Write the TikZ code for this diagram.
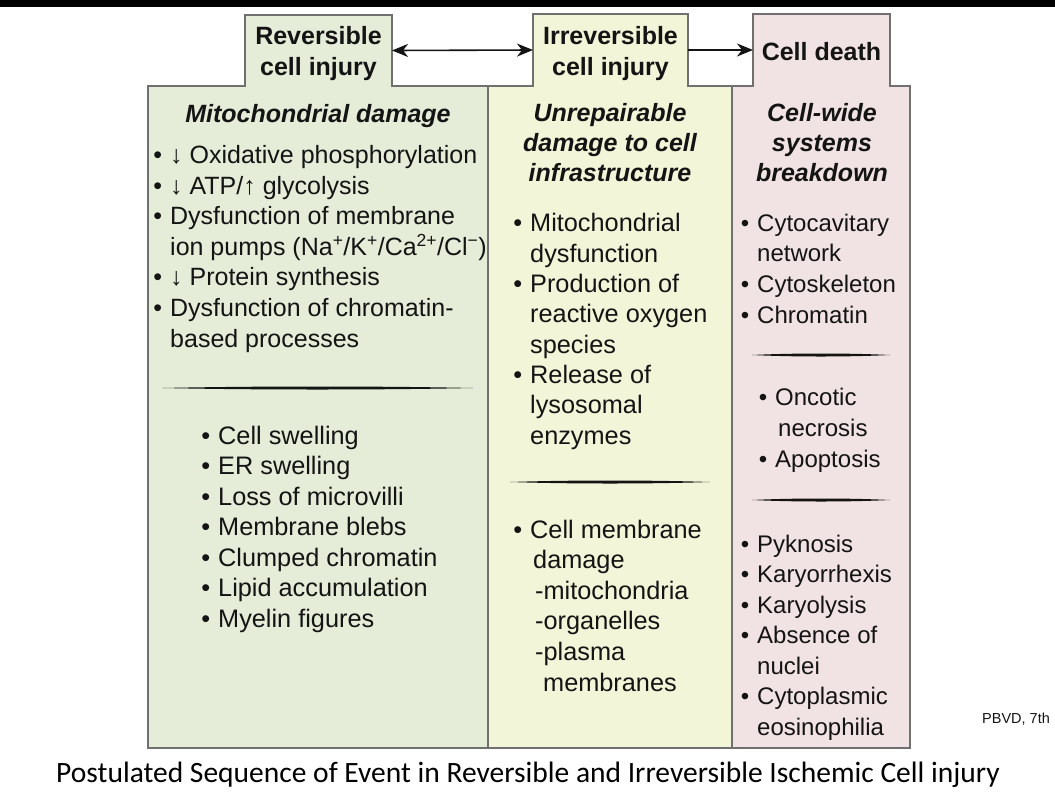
\documentclass[tikz,border=0pt]{standalone}
\usepackage{fontspec}
\setmainfont{Liberation Sans}
\newfontfamily\captionfont{Carlito}
\usetikzlibrary{arrows.meta, positioning, backgrounds}
\definecolor{sage}{HTML}{E5ECD8}
\definecolor{cream}{HTML}{F3F5D8}
\definecolor{blush}{HTML}{F1E3E3}
\definecolor{frame}{HTML}{707070}
\definecolor{ink}{HTML}{141414}

% hanging bullet
\newcommand{\bul}{\llap{\textbullet\hspace{8pt}}}
% tapered separator: x1, x2, y
\newcommand{\divider}[3]{%
  \fill[ink] (#1,#3) .. controls ({#1+0.3*(#2-#1)},{#3-2}) and ({#2-0.3*(#2-#1)},{#3-2}) .. (#2,#3)
    .. controls ({#2-0.3*(#2-#1)},{#3+2}) and ({#1+0.3*(#2-#1)},{#3+2}) .. (#1,#3);}

\begin{document}
\begin{tikzpicture}[
    x=1pt, y=-1pt,
    >={Stealth[length=16pt, width=13pt, inset=5pt]},
    tab/.style={
        font=\fontsize{25}{31}\selectfont\bfseries, align=center,
        inner sep=0pt, outer sep=0pt, text=ink
    },
    colbody/.style={inner sep=0pt, outer sep=0pt, minimum height=662},
    colfill/.style={fill=#1, draw=frame, line width=1.3pt},
    head/.style={
        font=\fontsize{25}{30}\selectfont\bfseries\itshape, align=center,
        anchor=base, inner sep=0pt, text=ink
    },
    body/.style={
        font=\fontsize{25.3}{30.6}\selectfont, align=left,
        anchor=base west, inner sep=0pt, text=ink
    },
    arr/.style={line width=1.6pt, draw=ink}
]
\useasboundingbox (0,0) rectangle (1055,809);

% === Tabs ===
\node[tab, minimum width=147, minimum height=71] (revtab) at (318.5,50.5) {\rule{0pt}{25pt}Reversible\\cell injury};
\node[tab, minimum width=155, minimum height=72] (irrtab) at (610.5,50) {\rule{0pt}{25pt}Irreversible\\cell injury};
\node[tab, minimum width=137, minimum height=72] (deathtab) at (821.5,50) {\rule{0pt}{21pt}Cell death};

% === Column bodies ===
\node[colbody, minimum width=340] (revcol) at (318,417) {};
\node[colbody, minimum width=244] (irrcol) at (610,417) {};
\node[colbody, minimum width=178] (deathcol) at (821,417) {};

\begin{scope}[on background layer]
    \fill[white] (0,0) rectangle (1055,809);
    \fill[black] (0,0) rectangle (1055,7);
    \draw[colfill=sage] (revcol.north west) -- (revtab.south west) -- (revtab.north west)
        -- (revtab.north east) -- (revtab.south east) -- (revcol.north east)
        -- (revcol.south east) -- (revcol.south west) -- cycle;
    \draw[colfill=cream] (irrcol.north west) -- (irrtab.south west) -- (irrtab.north west)
        -- (irrtab.north east) -- (irrtab.south east) -- (irrcol.north east)
        -- (irrcol.south east) -- (irrcol.south west) -- cycle;
    \draw[colfill=blush] (deathcol.north west) -- (deathtab.south west) -- (deathtab.north west)
        -- (deathtab.north east) -- (deathtab.south east) -- (deathcol.north east)
        -- (deathcol.south east) -- (deathcol.south west) -- cycle;
\end{scope}

% === Arrows between stages ===
\draw[arr, <->] (revtab.east) -- (irrtab.west);
\draw[arr, ->] (irrtab.east) -- (deathtab.west);

% === Reversible column (text nodes sit on their last baseline) ===
\node[head] (revhead) at (318,122) {Mitochondrial damage};
\node[body, font=\fontsize{25}{30.6}\selectfont] (revlist) at (170,347) {\bul ↓ Oxidative phosphorylation\\
    \bul ↓ ATP/↑ glycolysis\\
    \bul Dysfunction of membrane\\
    ion pumps (Na\textsuperscript{+}/K\textsuperscript{+}/Ca\textsuperscript{2+}/Cl\textsuperscript{−})\\
    \bul ↓ Protein synthesis\\
    \bul Dysfunction of chromatin-\\
    based processes};
\divider{162}{473}{388}
\node[body, font=\fontsize{25.3}{30.5}\selectfont] (revsigns) at (218,627) {\bul Cell swelling\\
    \bul ER swelling\\
    \bul Loss of microvilli\\
    \bul Membrane blebs\\
    \bul Clumped chromatin\\
    \bul Lipid accumulation\\
    \bul Myelin figures};

% === Irreversible column ===
\node[head] (irrhead) at (610,181) {Unrepairable\\damage to cell\\infrastructure};
\node[body, font=\fontsize{25.3}{30.3}\selectfont] (irrlist) at (530,444) {\bul Mitochondrial\\
    dysfunction\\
    \bul Production of\\
    reactive oxygen\\
    species\\
    \bul Release of\\
    lysosomal\\
    enzymes};
\divider{510}{710}{482}
\node[body] (irrsigns) at (530,691) {\bul Cell membrane\\
    \hspace*{3pt}damage\\
    \hspace*{5pt}-mitochondria\\
    \hspace*{5pt}-organelles\\
    \hspace*{5pt}-plasma\\
    \hspace*{13pt}membranes};

% === Cell death column ===
\node[head] (deathhead) at (822,181) {Cell-wide\\systems\\breakdown};
\node[body, font=\fontsize{24}{30.6}\selectfont] (deathlist) at (757,323) {\bul Cytocavitary\\
    network\\
    \bul Cytoskeleton\\
    \bul Chromatin};
\divider{752}{890}{355}
\node[body, font=\fontsize{24}{31}\selectfont] (deathmodes) at (775,467) {\bul Oncotic\\
    \hspace*{3pt}necrosis\\
    \bul Apoptosis};
\divider{752}{890}{500}
\node[body, font=\fontsize{24}{30.5}\selectfont] (deathsigns) at (757,735) {\bul Pyknosis\\
    \bul Karyorrhexis\\
    \bul Karyolysis\\
    \bul Absence of\\
    nuclei\\
    \bul Cytoplasmic\\
    eosinophilia};

% === Source and caption ===
\node[font=\fontsize{14.5}{17}\selectfont, anchor=base west, inner sep=0pt, text=ink] (source) at (982,723) {PBVD, 7th};
\node[font=\captionfont\fontsize{29.5}{34}\selectfont, anchor=base, inner sep=0pt] (caption) at (528,782)
    {Postulated Sequence of Event in Reversible and Irreversible Ischemic Cell injury};

\end{tikzpicture}
\end{document}
